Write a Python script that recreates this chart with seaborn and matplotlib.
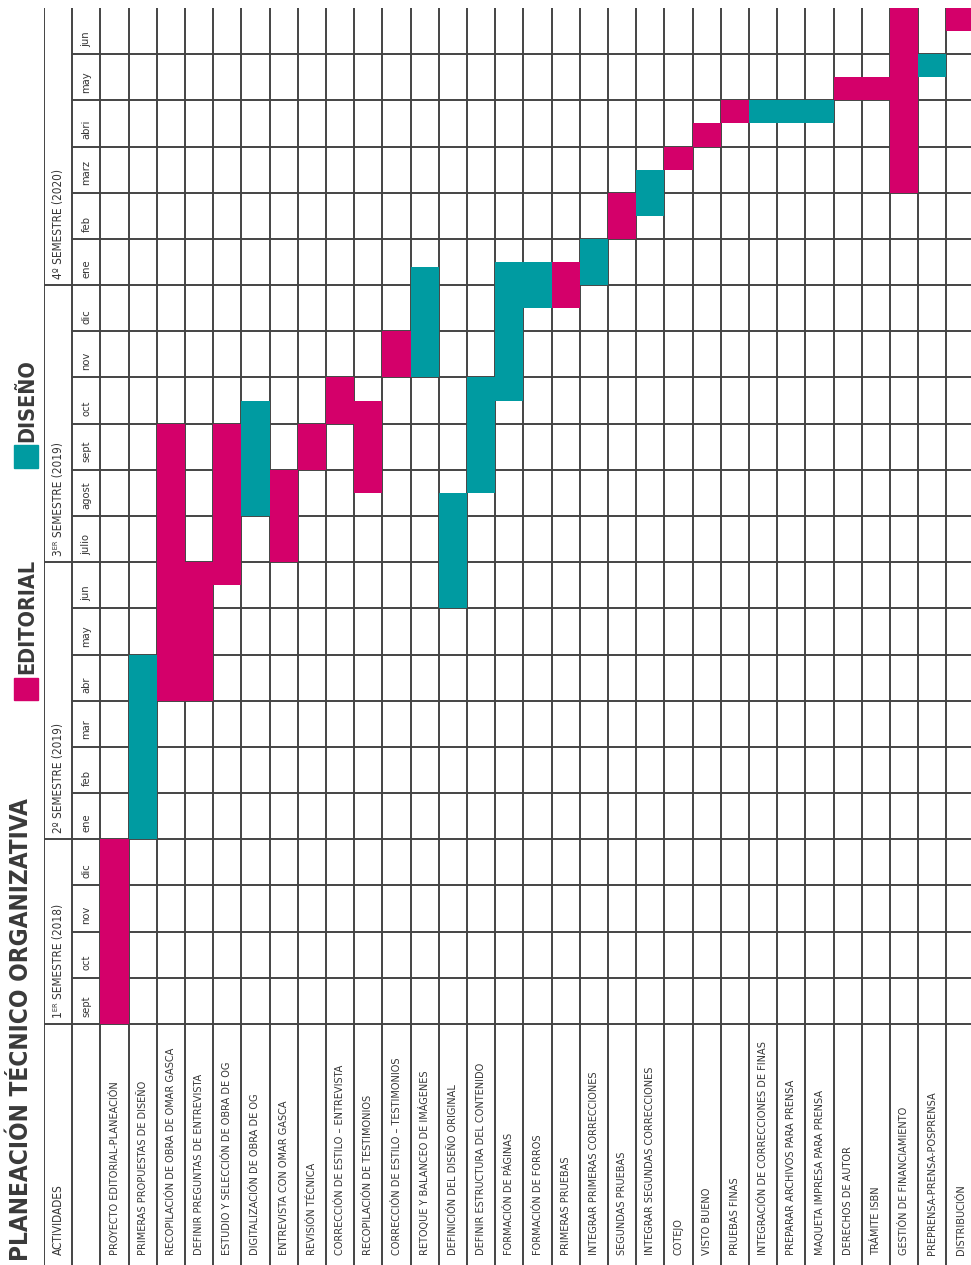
import matplotlib
matplotlib.use('Agg')
import matplotlib.pyplot as plt
from matplotlib import font_manager
from matplotlib.patches import Rectangle
import seaborn as sns
import numpy as np
import pandas as pd

actividades = [
    'PROYECTO EDITORIAL-PLANEACIÓN',
    'PRIMERAS PROPUESTAS DE DISEÑO',
    'RECOPILACIÓN DE OBRA DE OMAR GASCA',
    'DEFINIR PREGUNTAS DE ENTREVISTA',
    'ESTUDIO Y SELECCIÓN DE OBRA DE OG',
    'DIGITALIZACIÓN DE OBRA DE OG',
    'ENTREVISTA CON OMAR GASCA',
    'REVISIÓN TÉCNICA',
    'CORRECCIÓN DE ESTILO – ENTREVISTA',
    'RECOPILACIÓN DE TESTIMONIOS',
    'CORRECCIÓN DE ESTILO – TESTIMONIOS',
    'RETOQUE Y BALANCEO DE IMÁGENES',
    'DEFINICIÓN DEL DISEÑO ORIGINAL',
    'DEFINIR ESTRUCTURA DEL CONTENIDO',
    'FORMACIÓN DE PÁGINAS',
    'FORMACIÓN DE FORROS',
    'PRIMERAS PRUEBAS',
    'INTEGRAR PRIMERAS CORRECCIONES',
    'SEGUNDAS PRUEBAS',
    'INTEGRAR SEGUNDAS CORRECCIONES',
    'COTEJO',
    'VISTO BUENO',
    'PRUEBAS FINAS',
    'INTEGRACIÓN DE CORRECCIONES DE FINAS',
    'PREPARAR ARCHIVOS PARA PRENSA',
    'MAQUETA IMPRESA PARA PRENSA',
    'DERECHOS DE AUTOR',
    'TRÁMITE ISBN',
    'GESTIÓN DE FINANCIAMIENTO',
    'PREPRENSA-PRENSA-POSPRENSA',
    'DISTRIBUCIÓN',
]

# meses contados desde septiembre 2018 (0) hasta junio 2020 (22)
inicio = [0, 4, 7, 7, 9.5, 11, 10, 12, 13, 11.5, 14, 14, 9, 11.5, 13.5, 15.5,
          15.5, 16, 17, 17.5, 18.5, 19, 19.5, 19.5, 19.5, 19.5, 20, 20, 18,
          20.5, 21.5]
fin = [4, 8, 13, 10, 13, 13.5, 12, 13, 14, 13.5, 15, 16.4, 11.5, 14, 16.5,
       16.5, 16.5, 17, 18, 18.5, 19, 19.5, 20, 20, 20, 20, 20.5, 20.5, 22, 21,
       22]
area = ['EDITORIAL', 'DISEÑO', 'EDITORIAL', 'EDITORIAL', 'EDITORIAL', 'DISEÑO',
        'EDITORIAL', 'EDITORIAL', 'EDITORIAL', 'EDITORIAL', 'EDITORIAL',
        'DISEÑO', 'DISEÑO', 'DISEÑO', 'DISEÑO', 'DISEÑO', 'EDITORIAL', 'DISEÑO',
        'EDITORIAL', 'DISEÑO', 'EDITORIAL', 'EDITORIAL', 'EDITORIAL', 'DISEÑO',
        'DISEÑO', 'DISEÑO', 'EDITORIAL', 'EDITORIAL', 'EDITORIAL', 'DISEÑO',
        'EDITORIAL']

meses = ['sept', 'oct', 'nov', 'dic', 'ene', 'feb', 'mar', 'abr', 'may', 'jun',
         'julio', 'agost', 'sept', 'oct', 'nov', 'dic', 'ene', 'feb', 'marz',
         'abri', 'may', 'jun']
semestres = ['1ᴱᴿ SEMESTRE (2018)', '2º SEMESTRE (2019)',
             '3ᴱᴿ SEMESTRE (2019)', '4º SEMESTRE (2020)']
semestre_inicio = [0, 4, 10, 16]

colores = {'EDITORIAL': '#D4006A', 'DISEÑO': '#009BA1'}
texto = '#353535'
linea = '#444444'

sns.set_theme(style='white')

# fuente condensada si existe
nombres = {f.name for f in font_manager.fontManager.ttflist}
condensada = any(f.name == 'DejaVu Sans' and f.stretch == 'condensed'
                 for f in font_manager.fontManager.ttflist)
if 'Liberation Sans Narrow' in nombres:
    plt.rcParams['font.family'] = ['Liberation Sans Narrow', 'DejaVu Sans']
elif condensada:
    plt.rcParams['font.family'] = ['DejaVu Sans']
    plt.rcParams['font.stretch'] = 'condensed'
else:
    plt.rcParams['font.family'] = ['DejaVu Sans']

df = pd.DataFrame({'actividad': actividades, 'inicio': inicio,
                   'fin': fin, 'area': area})
df['pos'] = np.arange(len(df)) + 0.5
df['duracion'] = df['fin'] - df['inicio']

W, H = 971, 1265
fig = plt.figure(figsize=(W / 100, H / 100), dpi=100)
fig.patch.set_facecolor('white')

col = 28.2
ylo = -5.22
ax = fig.add_axes([44 / W, 0, 33 * col / W, 1257 / H])

for a in ['EDITORIAL', 'DISEÑO']:
    sub = df[df['area'] == a].sort_values('pos')
    sns.barplot(data=sub, x='pos', y='duracion', bottom=sub['inicio'].to_numpy(),
                native_scale=True, width=1, color=colores[a], saturation=1,
                errorbar=None, linewidth=0, zorder=3, ax=ax)

ax.set_xlim(-2, 31)
ax.set_ylim(ylo, 22)
ax.axis('off')

# cuadricula
ax.vlines(np.arange(-2, 32), ylo, 22, colors=linea, lw=1.4, zorder=2)
ax.hlines(np.arange(1, 22), -1, 31, colors=linea, lw=1.4, zorder=2)
ax.hlines(0, -2, 31, colors=linea, lw=1.4, zorder=2)
ax.hlines(semestre_inicio[1:], -2, -1, colors=linea, lw=1.4, zorder=2)

for m, nombre in enumerate(meses):
    ax.text(-0.5, m + 0.16, nombre, rotation=90, rotation_mode='anchor',
            ha='left', va='center', fontsize=8, color=texto)

for s, nombre in zip(semestre_inicio, semestres):
    ax.text(-1.5, s + 0.13, nombre, rotation=90, rotation_mode='anchor',
            ha='left', va='center', fontsize=8.5, color=texto)

ax.text(-1.5, ylo + 0.22, 'ACTIVIDADES', rotation=90, rotation_mode='anchor',
        ha='left', va='center', fontsize=8.5, color=texto)

for i, nombre in enumerate(actividades):
    ax.text(i + 0.5, ylo + 0.22, nombre, rotation=90, rotation_mode='anchor',
            ha='left', va='center', fontsize=7.8, color=texto)

# titulo y leyenda
fig.text(21 / W, 4 / H, 'PLANEACIÓN TÉCNICO ORGANIZATIVA', rotation=90,
         rotation_mode='anchor', ha='left', va='center', fontsize=17.5,
         fontweight='bold', color='#3a3a3a')

fig.patches.append(Rectangle((14 / W, (H - 700) / H), 24 / W, 22 / H,
                             transform=fig.transFigure,
                             color=colores['EDITORIAL']))
fig.text(27 / W, (H - 674) / H, 'EDITORIAL', rotation=90,
         rotation_mode='anchor', ha='left', va='center', fontsize=15.5,
         fontweight='bold', color='#3a3a3a')
fig.patches.append(Rectangle((14 / W, (H - 468) / H), 24 / W, 23 / H,
                             transform=fig.transFigure,
                             color=colores['DISEÑO']))
fig.text(27 / W, (H - 442) / H, 'DISEÑO', rotation=90,
         rotation_mode='anchor', ha='left', va='center', fontsize=15.5,
         fontweight='bold', color='#3a3a3a')

fig.savefig('out.png', dpi=100, facecolor='white')
